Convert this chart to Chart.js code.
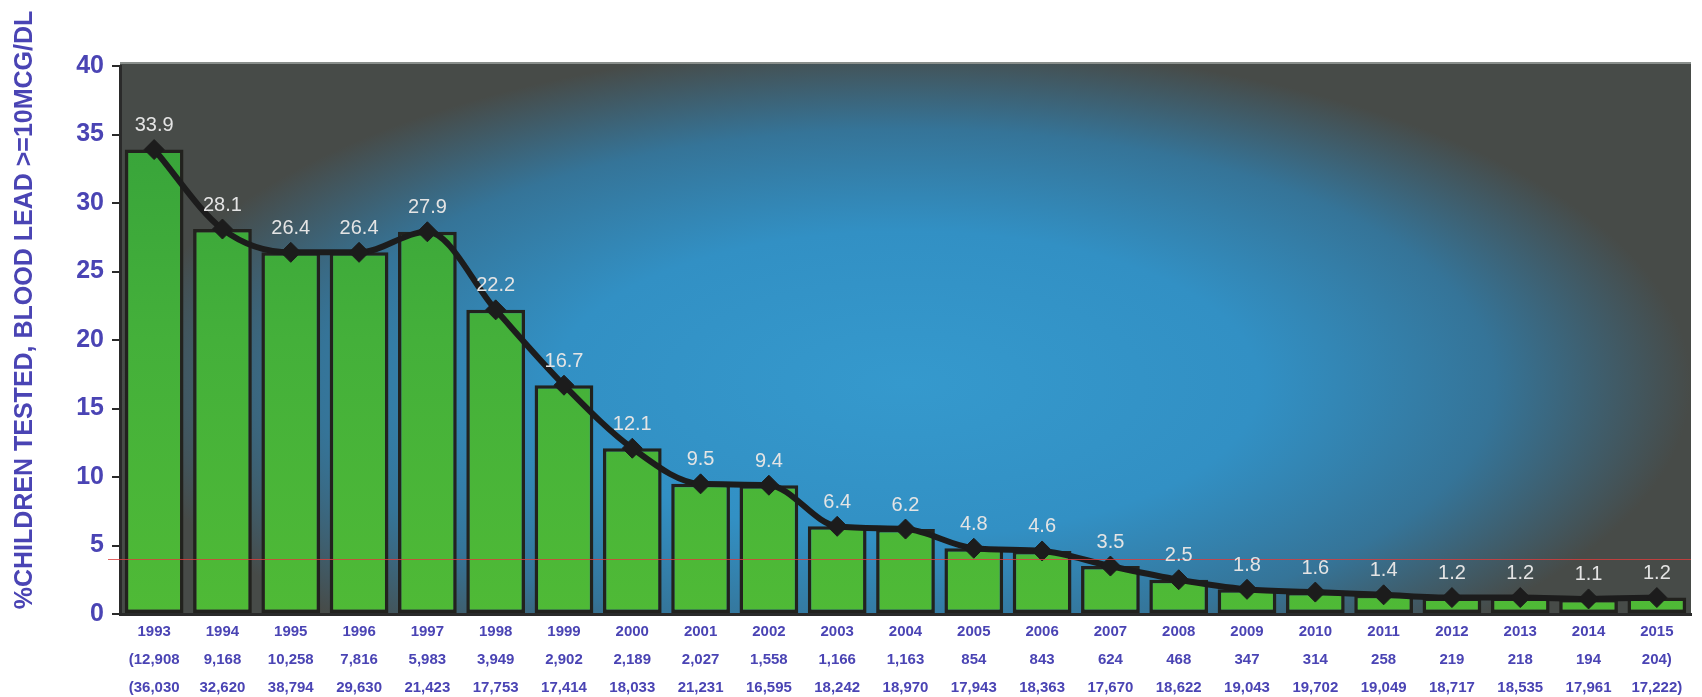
<!DOCTYPE html>
<html>
<head>
<meta charset="utf-8">
<script src="https://cdn.jsdelivr.net/npm/chart.js@4.4.1/dist/chart.umd.min.js"></script>
<style>
  html, body { margin: 0; padding: 0; background: #ffffff; overflow: hidden; }
  #wrap { width: 1702px; height: 697px; }
</style>
</head>
<body>
<div id="wrap"><canvas id="c" width="1702" height="697"></canvas></div>
<script>
// ---- data ----
const years = ['1993','1994','1995','1996','1997','1998','1999','2000','2001','2002','2003','2004','2005','2006','2007','2008','2009','2010','2011','2012','2013','2014','2015'];
const elevatedCounts = ['(12,908','9,168','10,258','7,816','5,983','3,949','2,902','2,189','2,027','1,558','1,166','1,163','854','843','624','468','347','314','258','219','218','194','204)'];
const testedCounts = ['(36,030','32,620','38,794','29,630','21,423','17,753','17,414','18,033','21,231','16,595','18,242','18,970','17,943','18,363','17,670','18,622','19,043','19,702','19,049','18,717','18,535','17,961','17,222)'];
const percentElevated = [33.9, 28.1, 26.4, 26.4, 27.9, 22.2, 16.7, 12.1, 9.5, 9.4, 6.4, 6.2, 4.8, 4.6, 3.5, 2.5, 1.8, 1.6, 1.4, 1.2, 1.2, 1.1, 1.2];
const pointLabels = ['33.9','28.1','26.4','26.4','27.9','22.2','16.7','12.1','9.5','9.4','6.4','6.2','4.8','4.6','3.5','2.5','1.8','1.6','1.4','1.2','1.2','1.1','1.2'];
const yMin = 0, yMax = 40, yStep = 5;
const referenceLineValue = 4;
const yTitle = '%CHILDREN TESTED, BLOOD LEAD >=10MCG/DL';

const labels = years.map((y, i) => [y, elevatedCounts[i], testedCounts[i]]);

const FONT = "'Liberation Sans', Arial, sans-serif";
const AXIS_TEXT = '#4a44b4';

const backgroundPlugin = {
  id: 'bgGradient',
  beforeDraw(chart) {
    const { ctx, chartArea: a } = chart;
    const w = a.right - a.left, h = a.bottom - a.top;
    ctx.save();
    ctx.beginPath();
    ctx.rect(a.left, a.top - 3, w, h + 3);
    ctx.clip();
    ctx.fillStyle = '#474b48';
    ctx.fillRect(a.left, a.top - 3, w, h + 3);
    const cx = a.left + w * 0.5;
    const cy = a.top + h * 0.58;
    const rx = w * 0.5;
    const ry = h * 0.62;
    ctx.translate(cx, cy);
    ctx.scale(1, ry / rx);
    const g = ctx.createRadialGradient(0, 0, 0, 0, 0, rx);
    g.addColorStop(0, '#3599cd');
    g.addColorStop(0.45, '#3290c4');
    g.addColorStop(0.75, '#357498');
    g.addColorStop(1, '#474b48');
    ctx.fillStyle = g;
    ctx.fillRect(-rx, -rx, rx * 2, rx * 2);
    ctx.restore();
    // top edge line
    ctx.save();
    ctx.strokeStyle = '#8a8f8c';
    ctx.lineWidth = 2;
    ctx.beginPath();
    ctx.moveTo(a.left, a.top - 3);
    ctx.lineTo(a.right, a.top - 3);
    ctx.stroke();
    ctx.restore();
  }
};

const refLinePlugin = {
  id: 'refLine',
  afterDatasetsDraw(chart) {
    const { ctx, chartArea: a, scales } = chart;
    const y = Math.round(scales.y.getPixelForValue(referenceLineValue)) + 0.5;
    ctx.save();
    ctx.strokeStyle = 'rgba(220,60,60,0.8)';
    ctx.lineWidth = 1;
    ctx.beginPath();
    ctx.moveTo(a.left - 12, y);
    ctx.lineTo(a.right, y);
    ctx.stroke();
    ctx.restore();
  }
};

const labelPlugin = {
  id: 'pointLabels',
  afterDatasetsDraw(chart) {
    const { ctx } = chart;
    const meta = chart.getDatasetMeta(1);
    ctx.save();
    ctx.font = '20px ' + FONT;
    ctx.fillStyle = '#e4e4e4';
    ctx.textAlign = 'center';
    ctx.textBaseline = 'middle';
    meta.data.forEach((pt, i) => {
      ctx.fillText(pointLabels[i], pt.x, pt.y - 24);
    });
    ctx.restore();
  }
};

const yTitlePlugin = {
  id: 'yTitle',
  afterDraw(chart) {
    const { ctx } = chart;
    ctx.save();
    ctx.translate(25, 310);
    ctx.rotate(-Math.PI / 2);
    ctx.font = 'bold 25px ' + FONT;
    ctx.fillStyle = AXIS_TEXT;
    ctx.textAlign = 'center';
    ctx.textBaseline = 'middle';
    ctx.fillText(yTitle, 0, 0);
    ctx.restore();
  }
};

new Chart(document.getElementById('c'), {
  type: 'bar',
  data: {
    labels,
    datasets: [
      {
        type: 'bar',
        data: percentElevated,
        order: 2,
        backgroundColor(ctx) {
          const a = ctx.chart.chartArea;
          if (!a) return '#45ad38';
          const g = ctx.chart.ctx.createLinearGradient(0, a.top, 0, a.bottom);
          g.addColorStop(0, '#34a03a');
          g.addColorStop(0.5, '#44b03a');
          g.addColorStop(1, '#4fba36');
          return g;
        },
        borderColor: '#22221e',
        borderWidth: 3.5,
        borderSkipped: false,
        categoryPercentage: 1,
        barPercentage: 0.86
      },
      {
        type: 'line',
        data: percentElevated,
        order: 1,
        borderColor: '#1c1c1c',
        borderWidth: 6,
        cubicInterpolationMode: 'monotone',
        pointStyle: 'rectRot',
        pointRadius: 10,
        pointBackgroundColor: '#1c1c1c',
        pointBorderColor: '#1c1c1c',
        pointBorderWidth: 1,
        fill: false
      }
    ]
  },
  options: {
    responsive: false,
    animation: false,
    devicePixelRatio: 1,
    layout: { padding: { top: 66, right: 0, bottom: 0, left: 0 } },
    plugins: { legend: { display: false }, tooltip: { enabled: false } },
    scales: {
      x: {
        grid: { display: false, drawTicks: false },
        border: { display: true, color: '#2a2a2a', width: 3 },
        ticks: {
          color: AXIS_TEXT,
          font: { family: FONT, size: 15, weight: 'bold', lineHeight: 1.85 },
          maxRotation: 0,
          autoSkip: false,
          padding: 4
        },
        afterFit(scale) { scale.height = 83; }
      },
      y: {
        min: yMin,
        max: yMax,
        ticks: {
          stepSize: yStep,
          color: AXIS_TEXT,
          font: { family: FONT, size: 25, weight: 'bold' },
          padding: 8
        },
        grid: { drawOnChartArea: false, drawTicks: true, tickLength: 8, color: '#2a2a2a', lineWidth: 2 },
        border: { display: true, color: '#2a2a2a', width: 3 },
        title: { display: false },
        afterFit(scale) { scale.width = 120; }
      }
    }
  },
  plugins: [backgroundPlugin, refLinePlugin, labelPlugin, yTitlePlugin]
});
</script>
</body>
</html>
